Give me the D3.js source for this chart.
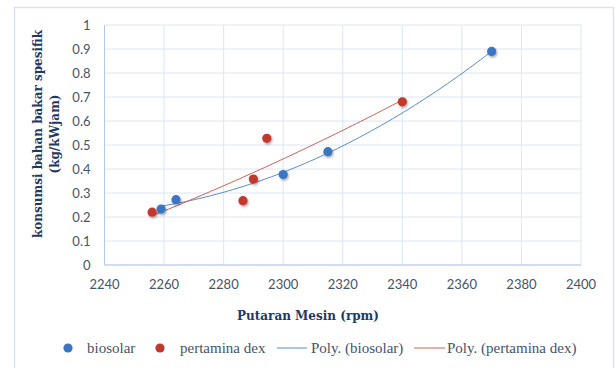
<!DOCTYPE html>
<html>
<head>
<meta charset="utf-8">
<script src="https://cdn.jsdelivr.net/npm/d3@7"></script>
<style>
  body { margin: 0; background: #fff; }
  svg { display: block; }
</style>
</head>
<body>
<div id="chart"></div>
<script>
// Data
const seriesNames = ['biosolar', 'pertamina dex'];
const biosolarRpm = [2259, 2264, 2300, 2315, 2370];
const biosolarSfc = [0.233, 0.272, 0.377, 0.472, 0.89];
const dexRpm = [2256, 2286.5, 2290, 2294.5, 2340];
const dexSfc = [0.22, 0.268, 0.358, 0.528, 0.68];
const xTicks = [2240, 2260, 2280, 2300, 2320, 2340, 2360, 2380, 2400];
const yTicks = [0, 0.1, 0.2, 0.3, 0.4, 0.5, 0.6, 0.7, 0.8, 0.9, 1];

const W = 615, H = 368;
const plot = { left: 104.5, right: 581, top: 25, bottom: 265 };

const textCol = '#44546a';
const titleCol = '#1f3864';
const gridCol = '#dce6f2';
const blue = '#3a76c2';
const red = '#c0392f';
const blueLine = '#5b8bd0';
const redLine = '#d0605a';

const svg = d3.select('#chart').append('svg')
  .attr('width', W).attr('height', H);

const defs = svg.append('defs');
const f = defs.append('filter').attr('id', 'shadow')
  .attr('x', '-50%').attr('y', '-50%').attr('width', '200%').attr('height', '200%');
f.append('feDropShadow').attr('dx', 1).attr('dy', 1.5).attr('stdDeviation', 1.2)
  .attr('flood-color', '#000').attr('flood-opacity', 0.35);

// chart frame
svg.append('rect')
  .attr('x', 14.5).attr('y', 7.5).attr('width', 599).attr('height', 380)
  .attr('fill', 'none').attr('stroke', '#d9e3f1').attr('stroke-width', 1.5);

const x = d3.scaleLinear().domain([2240, 2400]).range([plot.left, plot.right]);
const y = d3.scaleLinear().domain([0, 1]).range([plot.bottom, plot.top]);

// grid
const grid = svg.append('g');
grid.selectAll('.gx').data(xTicks).join('line')
  .attr('x1', d => x(d)).attr('x2', d => x(d))
  .attr('y1', plot.top).attr('y2', plot.bottom)
  .attr('stroke', gridCol).attr('stroke-width', 1);
grid.selectAll('.gy').data(yTicks).join('line')
  .attr('x1', plot.left).attr('x2', plot.right)
  .attr('y1', d => y(d)).attr('y2', d => y(d))
  .attr('stroke', gridCol).attr('stroke-width', 1);

// axes lines
svg.append('line').attr('x1', plot.left).attr('x2', plot.left)
  .attr('y1', plot.top).attr('y2', plot.bottom).attr('stroke', '#b4c7e7');
svg.append('line').attr('x1', plot.left).attr('x2', plot.right)
  .attr('y1', plot.bottom).attr('y2', plot.bottom).attr('stroke', '#b4c7e7');

// tick labels
const tickFont = 'Lato, "Open Sans", sans-serif';
svg.append('g').selectAll('text').data(xTicks).join('text')
  .attr('x', d => x(d)).attr('y', plot.bottom + 24)
  .attr('text-anchor', 'middle')
  .attr('font-family', tickFont).attr('font-size', 13)
  .attr('fill', textCol)
  .text(d => d);
svg.append('g').selectAll('text').data(yTicks).join('text')
  .attr('x', plot.left - 14).attr('y', d => y(d) + 4.5)
  .attr('text-anchor', 'end')
  .attr('font-family', tickFont).attr('font-size', 13)
  .attr('fill', textCol)
  .text(d => d3.format('~g')(d));

// axis titles
const serif = '"DejaVu Serif", "Liberation Serif", serif';
svg.append('text')
  .attr('x', 308).attr('y', 320)
  .attr('text-anchor', 'middle')
  .attr('font-family', serif).attr('font-weight', 'bold').attr('font-size', 12)
  .attr('fill', titleCol)
  .text('Putaran Mesin (rpm)');
const yt = svg.append('text')
  .attr('transform', 'translate(42,134) rotate(-90)')
  .attr('text-anchor', 'middle')
  .attr('font-family', serif).attr('font-weight', 'bold').attr('font-size', 12)
  .attr('fill', titleCol);
yt.append('tspan').attr('x', 0).attr('dy', 0).text('konsumsi bahan bakar spesifik');
yt.append('tspan').attr('x', 0).attr('dy', 17).text('(kg/kWjam)');

// quadratic least-squares fit (Excel "Poly." order 2 trendline)
function polyFit(xs, ys) {
  const x0 = d3.mean(xs);
  const u = xs.map(v => v - x0);
  const S = k => d3.sum(u, v => Math.pow(v, k));
  const T = k => d3.sum(u, (v, i) => Math.pow(v, k) * ys[i]);
  const A = [[S(0), S(1), S(2)], [S(1), S(2), S(3)], [S(2), S(3), S(4)]];
  const b = [T(0), T(1), T(2)];
  // gaussian elimination
  for (let i = 0; i < 3; i++) {
    for (let j = i + 1; j < 3; j++) {
      const m = A[j][i] / A[i][i];
      for (let k = i; k < 3; k++) A[j][k] -= m * A[i][k];
      b[j] -= m * b[i];
    }
  }
  const c = [0, 0, 0];
  for (let i = 2; i >= 0; i--) {
    let s = b[i];
    for (let k = i + 1; k < 3; k++) s -= A[i][k] * c[k];
    c[i] = s / A[i][i];
  }
  return v => c[0] + c[1] * (v - x0) + c[2] * (v - x0) * (v - x0);
}

const line = d3.line().x(d => x(d[0])).y(d => y(d[1]));
function trend(xs, ys, col) {
  const fn = polyFit(xs, ys);
  const lo = d3.min(xs), hi = d3.max(xs);
  const pts = d3.range(0, 61).map(i => {
    const v = lo + (hi - lo) * i / 60;
    return [v, fn(v)];
  });
  svg.append('path').attr('d', line(pts))
    .attr('fill', 'none').attr('stroke', col).attr('stroke-width', 1);
}
trend(biosolarRpm, biosolarSfc, blueLine);
trend(dexRpm, dexSfc, redLine);

// markers
function dots(xs, ys, col) {
  svg.append('g').selectAll('circle').data(xs).join('circle')
    .attr('cx', d => x(d)).attr('cy', (d, i) => y(ys[i]))
    .attr('r', 4.6).attr('fill', col)
    .attr('filter', 'url(#shadow)');
}
dots(biosolarRpm, biosolarSfc, blue);
dots(dexRpm, dexSfc, red);

// legend
const lg = svg.append('g');
const ly = 348;
const legFont = '"Liberation Serif", "DejaVu Serif", serif';
lg.append('circle').attr('cx', 68).attr('cy', ly).attr('r', 4.6).attr('fill', blue);
lg.append('text').attr('x', 87).attr('y', ly + 5).text(seriesNames[0]);
lg.append('circle').attr('cx', 160).attr('cy', ly).attr('r', 4.6).attr('fill', red);
lg.append('text').attr('x', 180).attr('y', ly + 5).text(seriesNames[1]);
lg.append('line').attr('x1', 277).attr('x2', 307).attr('y1', ly).attr('y2', ly)
  .attr('stroke', blueLine).attr('stroke-width', 1);
lg.append('text').attr('x', 311).attr('y', ly + 5).text('Poly. (' + seriesNames[0] + ')');
lg.append('line').attr('x1', 414).attr('x2', 445).attr('y1', ly).attr('y2', ly)
  .attr('stroke', redLine).attr('stroke-width', 1);
lg.append('text').attr('x', 447).attr('y', ly + 5).text('Poly. (' + seriesNames[1] + ')');
lg.selectAll('text')
  .attr('font-family', legFont).attr('font-size', 15)
  .attr('fill', textCol);
</script>
</body>
</html>
